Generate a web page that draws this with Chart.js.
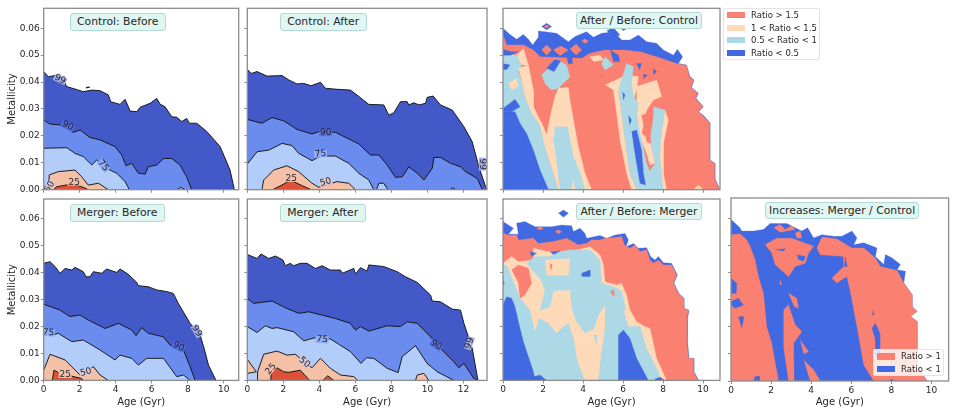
<!DOCTYPE html>
<html><head><meta charset="utf-8">
<script src="https://cdn.jsdelivr.net/npm/chart.js@4"></script>
<style>
html,body{margin:0;padding:0;background:#fff;width:954px;height:412px;overflow:hidden}
#wrap{position:relative;width:954px;height:412px;filter:blur(0.35px);font-family:"DejaVu Sans",sans-serif;color:#262626}
canvas{position:absolute}
.tb{position:absolute;box-sizing:border-box;background:#e0f6f3;border:1px solid #b4d8d4;border-radius:3px;font-size:10.8px;line-height:16px;text-align:center;white-space:nowrap}
.lg{position:absolute;box-sizing:border-box;border:1px solid #e4e4e4;border-radius:2px;font-size:8.5px}
.lg i{position:absolute;height:6.5px;width:17.5px}
.lg span{position:absolute;line-height:10px;white-space:nowrap}
</style></head><body><div id="wrap"></div>
<script>
const yTicks=[0,0.01,0.02,0.03,0.04,0.05,0.06];
const ageTicks=[0,2,4,6,8,10,12];
const C99='#4359c8',C90='#6a8cee',C75='#b3cdfa',C50='#f4c0a6',C25='#dc5138';
const SAL='#fa8072',PEA='#ffdab9',LBL='#add8e6',ROY='#4169e1';
const LABEL_BG={'99':'#a4aee3','90':'#566fdb','75':'#90acf4','50':'#dcc6cf','25':'#f4c0a6'};

/* Control: Before */
const cb99=[[0,.0438],[.26,.042],[.63,.0424],[1.09,.0408],[1.28,.0383],[1.74,.0374],[2.2,.0364],[2.67,.037],[3.13,.0368],[3.59,.0352],[3.72,.0327],[4.24,.0317],[4.52,.0336],[4.8,.0292],[5.17,.029],[5.35,.0306],[5.91,.0321],[6.28,.0339],[6.46,.0318],[6.74,.0308],[7.11,.0271],[7.39,.0269],[7.67,.0253],[7.94,.0265],[8.09,.0247],[8.5,.0247],[9.06,.0216],[9.8,.016],[10.35,.0073],[10.59,0]];
const cb99b=[[2.35,.038],[2.55,.0381],[2.35,.0378]];
const cb90=[[0,.0259],[.35,.0244],[1,.024],[1.65,.0213],[2.02,.0222],[2.57,.0194],[3.13,.0185],[3.96,.016],[4.33,.0129],[4.57,.0089],[4.89,.0098],[5.26,.0061],[5.63,.0058],[5.81,.0085],[6.28,.0092],[6.65,.0116],[7.11,.0116],[7.57,.0092],[7.94,.0048],[8.22,0]];
const cb75=[[0,.0154],[1.28,.0156],[1.74,.0135],[2.2,.0123],[2.67,.0092],[2.94,.011],[3.5,.0079],[4.06,.0061],[4.52,.003],[4.76,0]];
const cb75b=[[7.4,0],[7.6,.0009],[7.85,0]];
const cb50=[[.26,0],[.31,.0055],[.81,.0067],[1.74,.0073],[2.11,.0048],[2.48,.0017],[3.04,.0024],[3.59,0]];
const cb25=[[.54,0],[.72,.0011],[1.56,.0021],[2.11,.0011],[2.48,0]];
const cbLabels=[['99',.91,.041,25],['90',1.33,.0237,25],['75',3.31,.0089,50],['25',1.69,.0028,0],['50',.33,.0011,-60]];

/* Control: After */
const ca99=[[0,.0447],[.22,.0432],[.54,.0439],[1.09,.0422],[1.93,.0424],[2.3,.0408],[2.76,.0393],[3.13,.0395],[3.54,.0386],[4.06,.0399],[4.33,.0377],[4.98,.0373],[5.72,.037],[6.28,.0342],[6.74,.0317],[7.57,.0315],[7.85,.0277],[8.13,.0286],[8.5,.0327],[8.87,.0327],[8.96,.0315],[9.24,.0323],[9.52,.0315],[9.89,.0321],[9.98,.0343],[10.31,.0348],[10.72,.0315],[11.37,.0296],[12.02,.0234],[12.48,.0178],[12.85,.0085],[13.28,0]];
const ca90=[[0,.0261],[.81,.0247],[1.37,.0268],[2.02,.0256],[2.76,.0224],[3.59,.0207],[4.06,.0218],[4.89,.0213],[6.19,.017],[6.83,.0129],[7.3,.0129],[7.76,.0092],[8.22,.0046],[8.6,.0048],[8.96,.0085],[9.43,.0061],[9.8,.0036],[10.26,.0079],[10.35,.012],[10.72,.012],[11.28,.0098],[11.83,.0085],[12.11,.0067],[12.76,.0042],[13.04,0]];
const ca75=[[0,.0095],[.54,.0141],[1.19,.0147],[1.93,.0172],[2.48,.0164],[2.85,.0135],[3.59,.0108],[4.06,.0125],[4.89,.0125],[5.63,.0098],[6.19,.0061],[6.74,.0036],[7.02,0]];
const ca75b=[[7.17,0],[7.3,.0024],[7.57,.0024],[7.8,0]];
const ca75c=[[11.24,0],[11.41,.0007],[11.56,0]];
const ca50=[[.81,0],[.91,.0036],[1.46,.0073],[2.2,.0089],[2.85,.0067],[3.59,.0024],[3.96,.0009],[4.98,.003],[5.63,.0024],[6,0]];
const ca25=[[1.41,0],[2.02,.0021],[2.39,.0036],[2.85,.0021],[3.54,0]];
const caLabels=[['90',4.35,.0212,0],['75',4.06,.0133,-5],['50',4.35,.0028,-15],['25',2.44,.0042,0],['99',13.04,.0095,90]];

/* Merger: Before */
const mb99=[[0,.0435],[.35,.0441],[.63,.0423],[.91,.0398],[1.19,.0416],[1.56,.041],[1.74,.042],[2.2,.0404],[2.35,.0385],[2.57,.0385],[2.76,.0404],[3.22,.0398],[3.5,.0414],[4.06,.0401],[4.24,.0414],[4.7,.0394],[5.17,.0364],[5.26,.0352],[5.81,.0348],[6.28,.0336],[6.83,.033],[7.2,.0323],[7.48,.0286],[8.13,.0212],[8.69,.0169],[8.96,.0107],[9.15,.0057],[9.57,0]];
const mb90=[[0,.0283],[.91,.0261],[1.46,.0237],[2.02,.0243],[2.48,.0224],[3.41,.0193],[4.15,.0212],[4.89,.0187],[5.13,.0166],[5.44,.0196],[5.81,.0175],[6.65,.0162],[7.02,.0131],[7.76,.0113],[8.13,.0051],[8.41,0]];
const mb75=[[0,.0187],[.54,.0169],[.81,.0175],[1.56,.0144],[2.2,.015],[3.13,.0113],[3.96,.0076],[4.24,.0094],[4.89,.0082],[5.26,.0057],[5.72,.0082],[6.65,.0082],[7.39,.0014],[7.76,.002],[8.13,0]];
const mb50=[[0,.0038],[.35,.0097],[1.19,.0076],[2.02,.002],[2.76,.0051],[3.13,.002],[3.59,0]];
const mb25=[[.48,0],[.57,.0038],[.91,.0026],[2.11,.0007],[2.2,0]];
const mbLabels=[['99',8.5,.0183,60],['90',7.48,.0125,25],['75',.26,.0177,5],['50',2.35,.003,-15],['25',1.19,.0022,0]];

/* Merger: After */
const ma99=[[0,.0468],[.54,.0453],[.76,.047],[1.19,.0453],[1.56,.0462],[1.98,.0447],[2.11,.0426],[2.39,.0435],[2.57,.0426],[2.94,.0435],[3.31,.0435],[3.78,.0416],[4.15,.0426],[4.61,.041],[5.17,.041],[5.26,.0398],[5.91,.0416],[6,.0395],[6.28,.0419],[6.65,.0406],[6.74,.0429],[7.57,.0423],[8.31,.0404],[8.78,.0385],[9.43,.0364],[10.17,.0317],[10.26,.0295],[10.72,.0292],[11.37,.0265],[11.83,.0261],[12.02,.0212],[12.48,.0119],[12.8,0]];
const ma90=[[0,.0305],[.35,.0286],[1.37,.0295],[2.11,.027],[2.85,.0249],[3.41,.0255],[4.89,.023],[5.72,.0212],[6,.0187],[6.28,.02],[6.74,.0183],[7.76,.0203],[8.5,.02],[8.87,.0218],[9.43,.0212],[10.07,.0169],[10.81,.0113],[11.46,.0069],[11.74,.0047],[12.02,.0063],[12.57,.0007],[12.8,0]];
const ma75=[[0,.02],[.54,.0178],[1,.0203],[1.37,.0193],[1.65,.0196],[2.57,.0181],[3.13,.0147],[3.78,.0159],[4.61,.0154],[5.72,.0107],[6.31,.0063],[6.61,.0084],[7.02,.0082],[7.76,.0045],[8.37,.0029],[8.59,.0088],[9.33,.0129],[9.98,.0063],[10.54,.0032],[11.46,0]];
const ma50=[[.54,0],[.57,.0032],[.91,.0097],[1.65,.0109],[2.2,.0094],[2.67,.0097],[3.1,.0072],[3.59,.0047],[4.06,.0082],[4.61,.0045],[5.17,.002],[5.91,.0014],[6.13,0]];
const ma50b=[[0,.0078],[.5,.0032],[0,.0026]];
const ma50c=[[9.33,0],[9.43,.002],[9.8,.0026],[10.07,0]];
const ma25=[[1.28,0],[1.31,.0032],[1.65,.0047],[2.02,.0032],[2.3,.003],[2.94,.0038],[3.46,0]];
const ma25b=[[4.2,0],[4.46,.0017],[4.8,0]];
const maLabels=[['25',1.31,.0042,-50],['50',3.17,.0067,40],['75',4.15,.0152,5],['90',10.48,.0131,35],['99',12.33,.0138,-70]];

/* After / Before: Control */
const rc_env=[[0,.06],[.35,.0577],[.68,.0559],[1.02,.0577],[1.27,.0559],[1.48,.0538],[1.77,.0566],[1.77,.059],[2.1,.0587],[2.68,.0581],[3.27,.055],[3.6,.0569],[4.18,.0587],[4.52,.0566],[4.93,.0581],[5.35,.0585],[5.77,.0569],[5.93,.0556],[6.35,.0556],[6.77,.0575],[7.18,.055],[7.68,.0544],[8.02,.0519],[8.52,.05],[8.72,.0522],[8.98,.0494],[8.77,.0469],[9.18,.0463],[9.35,.042],[9.55,.0408],[9.43,.038],[9.77,.0358],[9.65,.034],[10.02,.0308],[9.77,.029],[10.02,.0277],[10.35,.0249],[10.35,.011],[10.6,.0098],[10.6,.0042],[10.85,0],[0,0]];
const rc_d1=[[1.93,.0606],[2.18,.0618],[2.43,.0606],[2.18,.0593]];
const rc_d1c=[[2.05,.0606],[2.18,.0612],[2.3,.0606],[2.18,.06]];
const rc_d2=[[5.77,.0606],[6.02,.0618],[6.27,.0603],[6.02,.0591]];
const rc_d3=[[5.18,.0591],[5.52,.0603],[5.85,.0575],[5.6,.0566]];
const rc_sal=[[0,.0577],[.18,.0538],[1.02,.0538],[1.52,.0519],[1.85,.0494],[3.93,.0488],[4.35,.0507],[5.1,.0519],[6.02,.0519],[6.85,.0513],[7.68,.0494],[8.68,.0469],[9.18,.0461],[9.32,.0417],[9.52,.0408],[9.4,.038],[9.73,.0358],[9.62,.034],[9.98,.0308],[9.73,.029],[9.98,.0277],[10.32,.0249],[10.32,.011],[10.57,.0098],[10.57,.0042],[10.82,0],[0,0]];
const rc_blob1=[[1.93,.0519],[2.18,.0538],[2.43,.0519],[2.18,.05]];
const rc_blob2=[[2.52,.0519],[2.88,.0534],[3.27,.0519],[2.85,.0498]];
const rc_blob3=[[3.35,.0522],[3.65,.0541],[3.93,.0519],[3.65,.05]];
const rc_b1=[[2.18,.0451],[2.6,.0485],[2.88,.0478],[2.55,.0438]];
const rc_b2=[[3.18,.0494],[3.43,.05],[3.48,.0469],[3.27,.0467]];
const rc_b3=[[5.35,.0519],[5.77,.05],[5.85,.0476],[5.52,.0476]];
const rc_s1=[[3.93,.0552],[4.1,.0561],[4.27,.0552],[4.1,.0543]];
const rc_pk=[[4.35,.0494],[4.85,.05],[5.02,.0482],[4.52,.0476]];
const rc_lk=[[5.1,.0494],[5.52,.0463],[5.1,.0445],[4.93,.0469]];
const rc_bk1=[[6.68,.0469],[6.93,.0469],[6.82,.0445]];
const rc_bk2=[[7.52,.0451],[7.68,.0439],[7.52,.0426]];
const rc_bk3=[[7.02,.043],[7.22,.0425],[7.02,.0412]];
const rc_lb1=[[0,.0507],[.68,.05],[.93,.0463],[.77,.0439],[.93,.0408],[1.1,.0346],[1.43,.0284],[1.85,.024],[2.1,.016],[2.43,.0085],[2.77,0],[0,0]];
const rc_pt=[[.68,.05],[1.02,.0525],[1.27,.0463],[.93,.0463]];
const rc_b4=[[0,.0521],[.43,.0513],[.77,.0513],[.35,.05],[0,.05]];
const rc_b5=[[0,.0469],[.35,.0463],[.18,.0447],[0,.0447]];
const rc_p0=[[.27,.0395],[.68,.0414],[.77,.0383],[.43,.037]];
const rc_b6=[[0,.029],[.6,.029],[.85,.0247],[1.18,.0209],[1.52,.0147],[1.85,.0073],[2.27,0],[0,0]];
const rc_b7=[[0,.0302],[.35,.0321],[.6,.0336],[.85,.0308],[.43,.029],[0,.029]];
const rc_p1=[[.77,.0451],[1.27,.0463],[1.52,.037],[1.52,.0308],[2.02,.0234],[2.18,.0203],[2.43,.0296],[2.6,.0346],[2.77,.0377],[3.27,.038],[3.35,.0333],[3.52,.0259],[3.77,.016],[4.1,.0061],[4.43,0],[2.77,0],[2.43,.0085],[2.1,.016],[1.85,.024],[1.43,.0284],[1.1,.0346],[.93,.0408]];
const rc_lb2=[[1.93,.0426],[2.35,.0457],[2.6,.0488],[3.18,.0463],[3.35,.042],[2.77,.0377],[2.43,.037],[2.1,.0395]];
const rc_s4=[[3.3,.0451],[3.77,.0463],[3.93,.0439],[3.6,.0414],[3.35,.0426]];
const rc_lb3=[[2.6,.0234],[3.22,.0234],[3.35,.0185],[3.52,.0123],[3.85,.0061],[4.1,0],[2.85,0],[2.68,.011],[2.52,.0185]];
const rc_p2=[[3.43,0],[3.52,.0042],[3.6,0]];
const rc_p3=[[5.1,.0389],[6.18,.0426],[6.77,.042],[6.68,.037],[6.52,.0333],[6.02,.0358],[5.77,.0364],[5.93,.0284],[6.1,.0185],[6.35,.0061],[6.68,0],[6.43,0],[6.18,.0061],[5.85,.0185],[5.68,.0284],[5.52,.037]];
const rc_lb4=[[5.77,.037],[6.18,.0469],[6.52,.0457],[6.43,.0395],[6.52,.0346],[6.77,.0321],[6.68,.0271],[6.85,.0209],[7.18,.0098],[7.52,.0036],[7.85,0],[6.68,0],[6.35,.0061],[6.1,.0185],[5.93,.0284]];
const rc_b8=[[6.43,.0216],[6.68,.0222],[6.93,.0147],[7.02,.0061],[7.13,.0017],[6.85,.0024],[6.68,.0098],[6.52,.0172]];
const rc_b9=[[5.97,.0364],[6.1,.0352],[6.02,.0333]];
const rc_b10=[[6.27,.0277],[6.43,.0259],[6.32,.024]];
const rc_p4=[[6.68,.0383],[7.68,.0408],[7.93,.0346],[7.52,.0333],[7.18,.0296],[6.93,.0209],[7.35,.0185],[7.6,.0098],[7.35,.0092],[7.18,.0135],[6.77,.0209],[6.68,.0296]];
const rc_lb5=[[7.52,.0308],[8.1,.0296],[7.93,.0209],[7.85,.0123],[8.02,0],[7.52,0],[7.27,.0061],[7.6,.0098],[7.35,.0185],[7.52,.0271]];
const rc_p5=[[8.1,.0296],[8.27,.0259],[8.02,.0172],[8.02,.0061],[8.18,0],[8.02,0],[7.85,.0123],[7.93,.0209]];
const rc_s2=[[6.93,.0277],[7.43,.029],[7.47,.024],[7.02,.024]];
const rc_s3=[[7.1,.0209],[7.35,.0209],[7.4,.0172],[7.18,.0178]];
const rc_p6=[[9.52,0],[9.77,.0017],[10.02,0]];

/* After / Before: Merger */
const rm_env=[[0,.059],[.52,.0565],[.27,.0543],[.77,.0543],[.68,.0584],[1.1,.059],[1.6,.0571],[2.43,.0571],[2.93,.0577],[3.43,.0575],[3.52,.0553],[3.85,.0565],[4.1,.0546],[4.18,.0528],[4.85,.0538],[5.18,.0528],[5.6,.054],[6.1,.0546],[6.27,.0522],[6.15,.0497],[6.52,.0509],[6.77,.0491],[7.18,.0493],[7.38,.046],[7.6,.0447],[7.77,.046],[8.02,.0437],[8.43,.0435],[8.72,.0392],[8.55,.0361],[8.8,.0323],[9.05,.0305],[9.05,.0268],[9.3,.0261],[9.22,.0224],[9.22,.0156],[9.3,.0082],[9.55,.0082],[9.55,.0032],[9.8,0],[0,0]];
const rm_d=[[2.77,.0621],[3.02,.0633],[3.27,.0621],[3.02,.0606]];
const rm_t1=[[1.68,.0565],[1.85,.0571],[2.02,.0565],[1.85,.0558]];
const rm_t2=[[2.6,.0552],[2.77,.056],[2.93,.0552],[2.77,.0545]];
const rm_sal=[[0,.0547],[.35,.0538],[.68,.0541],[.77,.0522],[1.52,.0528],[1.77,.0509],[2.52,.0516],[3.18,.0528],[3.77,.0503],[4.18,.051],[4.43,.0522],[4.85,.0522],[5.1,.0528],[5.6,.0531],[5.93,.0535],[6.07,.0503],[6.35,.0491],[6.6,.0503],[6.85,.0478],[7.18,.0485],[7.35,.0447],[7.52,.0435],[7.77,.0447],[8.02,.0429],[8.43,.0429],[8.68,.0392],[8.52,.0361],[8.77,.0323],[9.02,.0305],[9.02,.0268],[9.27,.0261],[9.18,.0224],[9.18,.0156],[9.27,.0082],[9.52,.0082],[9.52,.0032],[9.77,0],[0,0]];
const rm_peach=[[0,.0435],[.43,.046],[.77,.0441],[1.52,.0447],[1.52,.0491],[2.27,.0478],[3.35,.0478],[4.35,.0497],[4.85,.0466],[5.02,.0429],[5.1,.0367],[5.68,.0354],[5.93,.0361],[6.18,.0317],[6.35,.0261],[6.68,.0218],[7.1,.02],[7.35,.0193],[7.68,.0082],[8.18,0],[0,0]];
const rm_s1=[[.43,.0411],[.77,.0429],[1.27,.0417],[1.43,.0361],[1.1,.0317],[.85,.0305],[.77,.0361]];
const rm_b1=[[1.35,.0478],[1.68,.0472],[1.43,.046]];
const rm_b2=[[2.35,.0478],[2.85,.0481],[2.6,.0462]];
const rm_lbA=[[0,.0429],[.18,.0429],[.52,.0367],[.85,.0305],[1.35,.0261],[1.6,.0181],[1.82,.0231],[2.27,.0212],[2.68,.0175],[3.02,.02],[3.27,.0212],[3.52,.0156],[3.72,.0069],[4.1,0],[0,0]];
const rm_lbB=[[1.18,.0435],[1.6,.046],[2.35,.046],[2.77,.0476],[3.35,.0485],[4.35,.0485],[4.85,.0447],[4.93,.0361],[5.68,.0344],[5.93,.033],[6.15,.0261],[5.77,.0255],[5.1,.028],[4.77,.0243],[4.55,.0193],[4.1,.0175],[3.68,.0218],[3.43,.0268],[3.35,.0305],[2.85,.0336],[2.52,.033],[2.35,.0274],[1.85,.026],[2.1,.0336],[1.85,.0379],[1.43,.0411]];
const rm_pk=[[2.1,.0447],[3.35,.0453],[3.27,.0391],[2.18,.0391]];
const rm_sk=[[2.33,.0435],[2.47,.0429],[2.4,.0409]];
const rm_pk2=[[2.6,.033],[3.35,.0336],[3.43,.0268],[2.93,.0292]];
const rm_lbC=[[5.1,.028],[6.02,.0261],[6.27,.02],[6.85,.02],[7.18,.0119],[7.68,.0045],[7.93,0],[4.77,0],[4.93,.0107],[5.1,.0193]];
const rm_lbD=[[4.55,.0169],[4.72,.0169],[4.65,.0131]];
const rm_b3=[[0,.028],[.18,.0311],[.43,.0305],[.6,.0274],[.77,.0218],[1.02,.0144],[1.52,.0032],[1.6,0],[0,0]];
const rm_b4=[[1.52,.0014],[1.85,.002],[2.18,0],[1.52,0]];
const rm_b5=[[5.77,0],[5.77,.0169],[6.02,.0187],[6.35,.0156],[6.68,.0082],[7.27,0]];
const rm_b6=[[7.6,.0005],[7.85,.0012],[8.1,0],[7.6,0]];
const rm_b7=[[3.93,.0398],[4.35,.041],[4.35,.0386],[3.93,.0386]];
const rm_b8=[[0,.0373],[.07,.0361],[0,.0354]];
const rm_s2=[[5.35,.033],[5.55,.0336],[5.55,.0311]];

/* Increases: Merger / Control */
const ri_env=[[0,.0595],[.45,.0564],[.53,.0552],[1.12,.0552],[1.62,.0558],[1.95,.058],[2.37,.058],[2.78,.058],[3.2,.0564],[3.53,.0552],[3.82,.0564],[4.12,.0527],[4.53,.0539],[5.12,.0533],[5.53,.0533],[6.03,.0552],[6.28,.0527],[6.12,.0502],[6.62,.0509],[7.28,.049],[7.2,.0459],[7.62,.0429],[7.7,.0466],[8.03,.0453],[8.45,.0429],[8.28,.041],[8.7,.0404],[8.62,.0361],[9.03,.0318],[9.03,.0275],[9.28,.0256],[8.95,.0238],[9.28,.0219],[9.28,.0059],[9.53,.0028],[9.78,0],[0,0]];
const ri_sL=[[0,.0539],[.45,.0542],[.78,.052],[.95,.0496],[1.2,.0447],[1.37,.0385],[1.62,.0323],[1.78,.02],[2.03,.0139],[2.37,0],[0,0]];
const ri_b1=[[0,.0379],[.28,.036],[.25,.0323],[0,.0323]];
const ri_b2=[[0,.0293],[.37,.0305],[.62,.028],[.2,.0268],[0,.028]];
const ri_b3=[[.37,.0237],[.65,.0237],[.53,.0194]];
const ri_b4=[[1.12,0],[1.2,.0016],[1.42,.0018],[1.42,0]];
const ri_sC=[[1.7,.0502],[2.28,.0526],[3.03,.0526],[4.12,.0496],[3.87,.0471],[3.7,.0434],[3.2,.0422],[2.87,.0385],[2.2,.0428],[2.03,.0471]];
const ri_sD=[[2.12,.0564],[2.45,.0576],[2.7,.0558],[3.03,.0572],[3.2,.0558],[2.45,.0548]];
const ri_sE=[[3.2,.0545],[3.45,.0552],[3.53,.0527],[3.28,.0527]];
const ri_sF=[[2.45,.0373],[2.53,.0355],[2.42,.0355]];
const ri_bC1=[[2.2,.0483],[2.7,.0487],[2.62,.0478]];
const ri_bC2=[[3.28,.0465],[3.7,.0459],[3.62,.0441],[3.37,.0447]];
const ri_sR=[[4.53,.053],[5.28,.0523],[6.03,.049],[6.62,.049],[7.2,.0453],[7.45,.0422],[8.28,.0407],[8.62,.0361],[9.03,.0318],[9.03,.0275],[9.28,.0256],[8.95,.0238],[9.28,.0219],[9.28,.0059],[9.53,.0028],[9.78,0],[7.12,0],[6.62,.0059],[6.28,.02],[5.95,.033],[5.78,.0385],[5.28,.0361],[5.03,.0379],[5.62,.0422],[5.62,.0459],[4.45,.0465],[4.28,.049]];
const ri_b5=[[7.03,.0194],[7.2,.0213],[7.42,.0176],[7.42,.0084],[7.2,.009],[7.2,.0151]];
const ri_b6=[[7.87,0],[7.98,.0007],[8.2,0]];
const ri_b7=[[7.08,.0262],[7.13,.0243],[7.05,.0243]];
const ri_b8=[[5.7,.0459],[5.8,.0422],[5.65,.0422]];
const ri_s1=[[2.62,.0262],[2.87,.028],[3.2,.0207],[3.53,.0182],[3.12,.0139],[3.15,0],[2.87,0],[2.62,.0127]];
const ri_s2=[[2.87,.0323],[3.28,.0305],[3.37,.0268],[3.15,.0274]];
const ri_s3=[[3.45,.0151],[3.87,.0108],[3.62,.01]];
const ri_s4=[[3.62,.0077],[4.12,.0041],[4.45,0],[3.95,0]];

const contour=(l,c)=>({l,c,line:true});
const area=(l,c)=>({l,c,line:false});
const PANELS=[
{t:'Control: Before',L:43.7,R:238.7,T:8.3,B:189.7,xmax:10.83,yl:1,xl:0,labels:cbLabels,box:[69.7,13.3,96,17.7],
 layers:[contour(cb99,C99),contour(cb99b,'#ffffff'),contour(cb90,C90),contour(cb75,C75),contour(cb75b,C75),contour(cb50,C50),contour(cb25,C25)]},
{t:'Control: After',L:247.3,R:487,T:8.3,B:189.7,xmax:13.3,yl:0,xl:0,labels:caLabels,box:[279.7,13.3,87,17.7],
 layers:[contour(ca99,C99),contour(ca90,C90),contour(ca75,C75),contour(ca75b,C75),contour(ca75c,C75),contour(ca50,C50),contour(ca25,C25)]},
{t:'After / Before: Control',L:503,R:720,T:8.3,B:189.7,xmax:10.85,yl:0,xl:0,labels:[],box:[575.7,12,126.6,17.3],
 layers:[area(rc_env,ROY),area(rc_d1,ROY),area(rc_d1c,SAL),area(rc_d2,ROY),area(rc_d3,ROY),area(rc_sal,SAL),area(rc_blob1,SAL),area(rc_blob2,SAL),area(rc_blob3,SAL),area(rc_s1,SAL),area(rc_b2,ROY),area(rc_b3,ROY),area(rc_pk,PEA),area(rc_lk,LBL),area(rc_bk1,ROY),area(rc_bk2,ROY),area(rc_bk3,ROY),area(rc_lb1,LBL),area(rc_pt,PEA),area(rc_b4,ROY),area(rc_b5,ROY),area(rc_p0,PEA),area(rc_b6,ROY),area(rc_b7,ROY),area(rc_p1,PEA),area(rc_lb2,LBL),area(rc_s4,SAL),area(rc_b1,ROY),area(rc_lb3,LBL),area(rc_p2,PEA),area(rc_p3,PEA),area(rc_p4,PEA),area(rc_lb4,LBL),area(rc_b8,ROY),area(rc_b9,ROY),area(rc_b10,ROY),area(rc_lb5,LBL),area(rc_p5,PEA),area(rc_s2,SAL),area(rc_s3,SAL),area(rc_p6,PEA)]},
{t:'Merger: Before',L:43.7,R:238.7,T:199,B:380.4,xmax:10.83,yl:1,xl:1,labels:mbLabels,box:[69.7,204.3,95,17.4],
 layers:[contour(mb99,C99),contour(mb90,C90),contour(mb75,C75),contour(mb50,C50),contour(mb25,C25)]},
{t:'Merger: After',L:247.3,R:487,T:199,B:380.4,xmax:13.3,yl:0,xl:1,labels:maLabels,box:[279.7,204.3,86,17.4],
 layers:[contour(ma99,C99),contour(ma90,C90),contour(ma75,C75),contour(ma50,C50),contour(ma50b,C50),contour(ma50c,C50),contour(ma25,C25),contour(ma25b,C25)]},
{t:'After / Before: Merger',L:503,R:720,T:199,B:380.4,xmax:10.85,yl:0,xl:1,labels:[],box:[575.7,202.7,126.6,17],
 layers:[area(rm_env,ROY),area(rm_d,ROY),area(rm_t1,SAL),area(rm_t2,SAL),area(rm_sal,SAL),area(rm_peach,PEA),area(rm_s1,SAL),area(rm_b1,ROY),area(rm_b2,ROY),area(rm_lbA,LBL),area(rm_lbB,LBL),area(rm_pk,PEA),area(rm_sk,SAL),area(rm_pk2,PEA),area(rm_lbC,LBL),area(rm_lbD,LBL),area(rm_b3,ROY),area(rm_b4,ROY),area(rm_b5,ROY),area(rm_b6,ROY),area(rm_b7,ROY),area(rm_b8,ROY),area(rm_s2,SAL)]},
{t:'Increases: Merger / Control',L:731,R:948.6,T:198,B:381,xmax:10.85,yl:0,xl:1,labels:[],box:[765,202,154.3,17],
 layers:[area(ri_env,ROY),area(ri_sL,SAL),area(ri_b1,ROY),area(ri_b2,ROY),area(ri_b3,ROY),area(ri_b4,ROY),area(ri_sC,SAL),area(ri_bC1,ROY),area(ri_bC2,ROY),area(ri_sD,SAL),area(ri_sE,SAL),area(ri_sF,SAL),area(ri_sR,SAL),area(ri_b5,ROY),area(ri_b6,ROY),area(ri_b7,ROY),area(ri_b8,ROY),area(ri_s1,SAL),area(ri_s2,SAL),area(ri_s3,SAL),area(ri_s4,SAL)]}
];
const LEG1=[['Ratio > 1.5',SAL],['1 < Ratio < 1.5',PEA],['0.5 < Ratio < 1',LBL],['Ratio < 0.5',ROY]];
const LEG2=[['Ratio > 1',SAL],['Ratio < 1',ROY]];

Chart.defaults.font.family='"DejaVu Sans",sans-serif';
Chart.defaults.color='#262626';
const SPINE='#8c8c8c';
const deco={id:'deco',
 afterDatasetsDraw(ch,a,o){
  const c=ch.ctx,x=ch.scales.x,y=ch.scales.y;
  c.save();const q=ch.chartArea;c.beginPath();c.rect(q.left,q.top,q.right-q.left,q.bottom-q.top);c.clip();
  (o.items||[]).forEach(([s,ax,z,rot])=>{
   c.save();c.translate(x.getPixelForValue(ax),y.getPixelForValue(z));c.rotate(rot*Math.PI/180);
   c.fillStyle=LABEL_BG[s];c.fillRect(-6.5,-3.5,13,7);
   c.font='9px "DejaVu Sans"';c.textAlign='center';c.textBaseline='middle';c.fillStyle='#1e2230';c.fillText(s,0,0);c.restore();
  });
  c.restore();
  const r=ch.chartArea;c.save();c.strokeStyle=SPINE;c.lineWidth=1.3;c.strokeRect(r.left,r.top,r.right-r.left,r.bottom-r.top);c.restore();
 }};
const wrap=document.getElementById('wrap');
const noPad=s=>{s.paddingTop=0;s.paddingBottom=0;s.paddingLeft=0;s.paddingRight=0;};
PANELS.forEach(p=>{
 const cv=document.createElement('canvas');
 const cl=Math.floor(p.L-42),ct=Math.floor(p.T-4),w=Math.ceil(p.R+4)-cl,h=Math.ceil(p.B+30)-ct;
 cv.style.cssText=`left:${cl}px;top:${ct}px;width:${w}px;height:${h}px`;
 cv.width=w;cv.height=h;
 wrap.appendChild(cv);
 const ds=p.layers.map(s=>({data:s.l.map(([x,y])=>({x,y})),showLine:true,pointRadius:0,pointHoverRadius:0,tension:0,
   backgroundColor:s.c,fill:s.line?(s.l[0][1]===0||s.l[s.l.length-1][1]===0?'origin':'shape'):'shape',
   borderColor:s.line?'#141414':s.c,borderWidth:s.line?0.95:0.3})).reverse();
 new Chart(cv,{type:'scatter',data:{datasets:ds},plugins:[deco],options:{
  responsive:false,animation:false,
  layout:{padding:{top:p.T-ct,right:w-(p.R-cl),left:0,bottom:0}},
  plugins:{legend:{display:false},tooltip:{enabled:false},deco:{items:p.labels}},
  scales:{
   x:{type:'linear',min:0,max:p.xmax,afterFit(s){s.height=h-(p.B-ct);noPad(s)},
      afterBuildTicks(s){s.ticks=ageTicks.filter(v=>v<=p.xmax).map(v=>({value:v}))},
      ticks:{autoSkip:false,maxRotation:0,padding:1,font:{size:9},color:'#262626',callback:v=>p.xl?String(v):''},
      grid:{drawOnChartArea:false,drawTicks:true,tickLength:3,tickColor:SPINE,tickWidth:1},border:{display:false},
      title:{display:!!p.xl,text:'Age (Gyr)',font:{size:10},color:'#262626',padding:{top:0,bottom:3}}},
   y:{type:'linear',min:0,max:.0674,afterFit(s){s.width=p.L-cl;noPad(s)},
      afterBuildTicks(s){s.ticks=yTicks.map(v=>({value:v}))},
      ticks:{autoSkip:false,padding:1,font:{size:9},color:'#262626',callback:v=>p.yl?v.toFixed(2):''},
      grid:{drawOnChartArea:false,drawTicks:true,tickLength:3,tickColor:SPINE,tickWidth:1},border:{display:false},
      title:{display:!!p.yl,text:'Metallicity',font:{size:10},color:'#262626',padding:{top:5,bottom:0}}}
  }}});
 const d=document.createElement('div');d.className='tb';d.textContent=p.t;
 const [bx,by,bw,bh]=p.box;
 d.style.cssText=`left:${bx}px;top:${by}px;width:${bw}px;height:${bh}px;line-height:${bh-2}px`;
 wrap.appendChild(d);
});
function legend(items,x,y,w,h,bg,rows){
 const d=document.createElement('div');d.className='lg';
 d.style.cssText=`left:${x}px;top:${y}px;width:${w}px;height:${h}px;background:${bg}`;
 items.forEach(([t,c],i)=>{
  const e=document.createElement('i');e.style.cssText=`left:3.4px;top:${rows[i]-y-3.7}px;background:${c}`;d.appendChild(e);
  const s=document.createElement('span');s.textContent=t;s.style.cssText=`left:27.4px;top:${rows[i]-y-5.5}px`;d.appendChild(s);
 });
 wrap.appendChild(d);
}
legend(LEG1,722.7,7.7,97,52.6,'rgba(255,255,255,.85)',[14.7,27.3,39.7,52.3]);
legend(LEG2,872.7,349,71.3,27,'rgba(255,255,255,.8)',[355.7,368.3]);
</script></body></html>
